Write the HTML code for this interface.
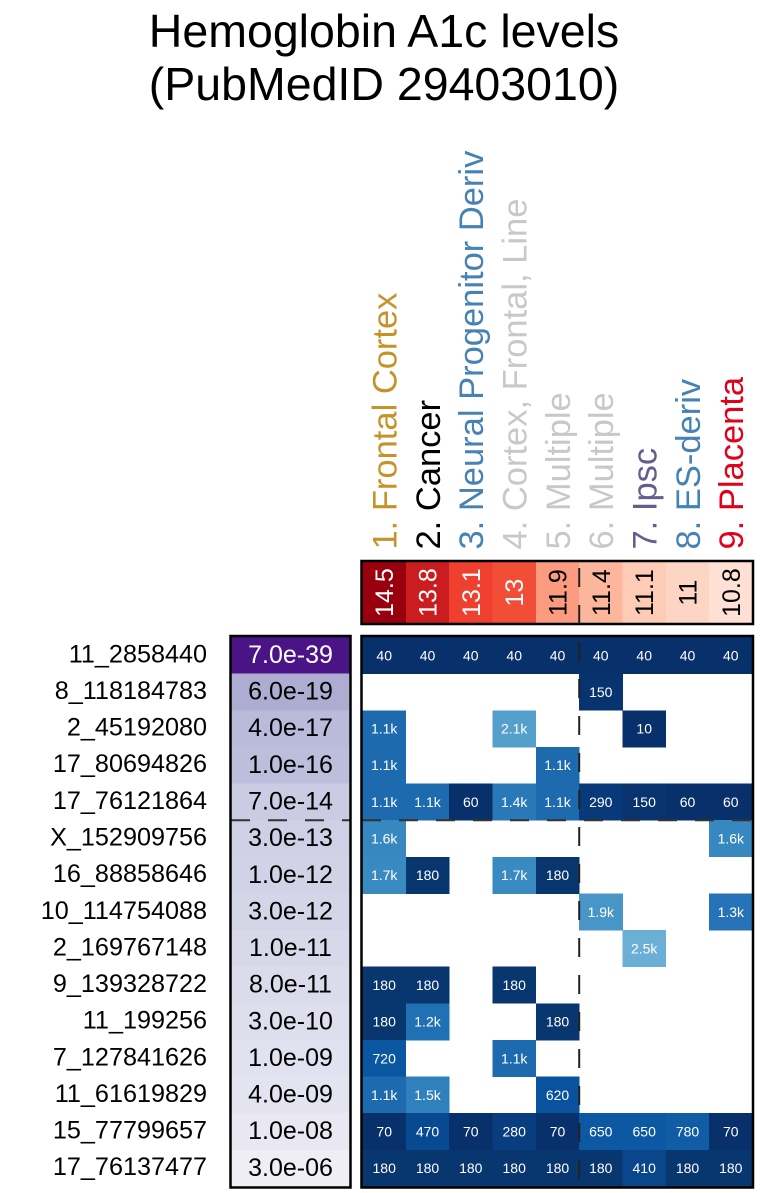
<!DOCTYPE html>
<html>
<head>
<meta charset="utf-8">
<style>
  html,body{margin:0;padding:0;background:#fff;}
  svg{display:block;font-family:"Liberation Sans",Arial,sans-serif;}
</style>
</head>
<body>
<svg width="768" height="1193" viewBox="0 0 768 1193" xmlns="http://www.w3.org/2000/svg">
  <rect x="0" y="0" width="768" height="1193" fill="#fff"/>
  <!-- Title -->
  <text x="384" y="47" font-size="46.5" text-anchor="middle" fill="#000">Hemoglobin A1c levels</text>
  <text x="384" y="100" font-size="46.5" text-anchor="middle" fill="#000">(PubMedID 29403010)</text>

  <!-- Column labels -->
  <g font-size="34.5">
    <text transform="translate(396.5,549.5) rotate(-90)" fill="#C8922A">1. Frontal Cortex</text>
    <text transform="translate(439.8,549.5) rotate(-90)" fill="#000000">2. Cancer</text>
    <text transform="translate(483.1,549.5) rotate(-90)" fill="#4682B4">3. Neural Progenitor Deriv</text>
    <text transform="translate(526.5,549.5) rotate(-90)" fill="#C8C8C8">4. Cortex, Frontal, Line</text>
    <text transform="translate(569.8,549.5) rotate(-90)" fill="#C8C8C8">5. Multiple</text>
    <text transform="translate(613.1,549.5) rotate(-90)" fill="#C8C8C8">6. Multiple</text>
    <text transform="translate(656.5,549.5) rotate(-90)" fill="#665C8E">7. Ipsc</text>
    <text transform="translate(699.8,549.5) rotate(-90)" fill="#4682B4">8. ES-deriv</text>
    <text transform="translate(743.1,549.5) rotate(-90)" fill="#E2001A">9. Placenta</text>
  </g>

  <!-- Red bar -->
  <g shape-rendering="crispEdges">
    <rect x="362.5" y="561.5" width="43.6" height="62" fill="#99000D"/>
    <rect x="405.8" y="561.5" width="43.6" height="62" fill="#CB1D20"/>
    <rect x="449.2" y="561.5" width="43.6" height="62" fill="#EF3F2F"/>
    <rect x="492.5" y="561.5" width="43.6" height="62" fill="#F24D37"/>
    <rect x="535.8" y="561.5" width="43.6" height="62" fill="#FC9B7F"/>
    <rect x="579.2" y="561.5" width="43.6" height="62" fill="#FCB69C"/>
    <rect x="622.5" y="561.5" width="43.6" height="62" fill="#FDCBB6"/>
    <rect x="665.8" y="561.5" width="43.6" height="62" fill="#FDD5C4"/>
    <rect x="709.2" y="561.5" width="43.3" height="62" fill="#FEE1D4"/>
  </g>
  <g font-size="25" text-anchor="middle">
    <text transform="translate(393.2,592.6) rotate(-90)" fill="#fff">14.5</text>
    <text transform="translate(436.5,592.6) rotate(-90)" fill="#fff">13.8</text>
    <text transform="translate(479.8,592.6) rotate(-90)" fill="#fff">13.1</text>
    <text transform="translate(523.2,592.6) rotate(-90)" fill="#fff">13</text>
    <text transform="translate(566.5,592.6) rotate(-90)" fill="#000">11.9</text>
    <text transform="translate(609.8,592.6) rotate(-90)" fill="#000">11.4</text>
    <text transform="translate(653.2,592.6) rotate(-90)" fill="#000">11.1</text>
    <text transform="translate(696.5,592.6) rotate(-90)" fill="#000">11</text>
    <text transform="translate(739.8,592.6) rotate(-90)" fill="#000">10.8</text>
  </g>
  <rect x="361.5" y="561" width="391.5" height="63" fill="none" stroke="#000" stroke-width="2.5"/>

  <!-- Row labels -->
  <g font-size="25.2" text-anchor="end" fill="#000">
    <text x="207" y="662.3">11_2858440</text>
    <text x="207" y="699.0">8_118184783</text>
    <text x="207" y="735.6">2_45192080</text>
    <text x="207" y="772.2">17_80694826</text>
    <text x="207" y="808.9">17_76121864</text>
    <text x="207" y="845.5">X_152909756</text>
    <text x="207" y="882.1">16_88858646</text>
    <text x="207" y="918.8">10_114754088</text>
    <text x="207" y="955.4">2_169767148</text>
    <text x="207" y="992.0">9_139328722</text>
    <text x="207" y="1028.7">11_199256</text>
    <text x="207" y="1065.3">7_127841626</text>
    <text x="207" y="1101.9">11_61619829</text>
    <text x="207" y="1138.6">15_77799657</text>
    <text x="207" y="1175.2">17_76137477</text>
  </g>

  <!-- P-value column -->
  <g shape-rendering="crispEdges">
    <rect x="231" y="637" width="119" height="37" fill="#4A1486"/>
    <rect x="231" y="673.6" width="119" height="37" fill="#AEADD1"/>
    <rect x="231" y="710.3" width="119" height="37" fill="#BABADB"/>
    <rect x="231" y="746.9" width="119" height="37" fill="#BDBDDC"/>
    <rect x="231" y="783.5" width="119" height="37" fill="#CBCBE3"/>
    <rect x="231" y="820.2" width="119" height="37" fill="#CFCFE5"/>
    <rect x="231" y="856.8" width="119" height="37" fill="#D2D2E7"/>
    <rect x="231" y="893.4" width="119" height="37" fill="#D5D5E8"/>
    <rect x="231" y="930.1" width="119" height="37" fill="#D8D8EA"/>
    <rect x="231" y="966.7" width="119" height="37" fill="#DBDBEB"/>
    <rect x="231" y="1003.3" width="119" height="37" fill="#DEDEED"/>
    <rect x="231" y="1040.0" width="119" height="37" fill="#E1E1EF"/>
    <rect x="231" y="1076.6" width="119" height="37" fill="#E4E4F0"/>
    <rect x="231" y="1113.2" width="119" height="37" fill="#E8E7F2"/>
    <rect x="231" y="1149.9" width="119" height="36.6" fill="#EFEEF5"/>
  </g>
  <g font-size="25" text-anchor="middle">
    <text x="290.5" y="663.0" fill="#fff">7.0e-39</text>
    <text x="290.5" y="699.6" fill="#000">6.0e-19</text>
    <text x="290.5" y="736.2" fill="#000">4.0e-17</text>
    <text x="290.5" y="772.9" fill="#000">1.0e-16</text>
    <text x="290.5" y="809.5" fill="#000">7.0e-14</text>
    <text x="290.5" y="846.1" fill="#000">3.0e-13</text>
    <text x="290.5" y="882.8" fill="#000">1.0e-12</text>
    <text x="290.5" y="919.4" fill="#000">3.0e-12</text>
    <text x="290.5" y="956.0" fill="#000">1.0e-11</text>
    <text x="290.5" y="992.7" fill="#000">8.0e-11</text>
    <text x="290.5" y="1029.3" fill="#000">3.0e-10</text>
    <text x="290.5" y="1065.9" fill="#000">1.0e-09</text>
    <text x="290.5" y="1102.6" fill="#000">4.0e-09</text>
    <text x="290.5" y="1139.2" fill="#000">1.0e-08</text>
    <text x="290.5" y="1175.8" fill="#000">3.0e-06</text>
  </g>
  <line x1="231" y1="820.2" x2="350" y2="820.2" stroke="#333" stroke-width="2" stroke-dasharray="19 18"/>
  <rect x="230.5" y="636" width="120" height="551.5" fill="none" stroke="#000" stroke-width="2.5"/>

  <!-- Heatmap cells -->
  <g shape-rendering="crispEdges">
    <rect x="362.5" y="637" width="390" height="37" fill="#08306B"/>
    <rect x="579.2" y="673.6" width="43.6" height="37" fill="#08336F"/>
    <rect x="362.5" y="710.3" width="43.6" height="37" fill="#1D6AAF"/>
    <rect x="492.5" y="710.3" width="43.6" height="37" fill="#559FCD"/>
    <rect x="622.5" y="710.3" width="43.6" height="37" fill="#08306B"/>
    <rect x="362.5" y="746.9" width="43.6" height="37" fill="#1D6AAF"/>
    <rect x="535.8" y="746.9" width="43.6" height="37" fill="#1D6AAF"/>
    <rect x="362.5" y="783.5" width="43.6" height="37" fill="#1D6AAF"/>
    <rect x="405.8" y="783.5" width="43.6" height="37" fill="#1D6AAF"/>
    <rect x="449.2" y="783.5" width="43.6" height="37" fill="#08306B"/>
    <rect x="492.5" y="783.5" width="43.6" height="37" fill="#2979B9"/>
    <rect x="535.8" y="783.5" width="43.6" height="37" fill="#1D6AAF"/>
    <rect x="579.2" y="783.5" width="43.6" height="37" fill="#083A7A"/>
    <rect x="622.5" y="783.5" width="43.6" height="37" fill="#08336F"/>
    <rect x="665.8" y="783.5" width="43.6" height="37" fill="#08306B"/>
    <rect x="709.2" y="783.5" width="43.3" height="37" fill="#08306B"/>
    <rect x="362.5" y="820.2" width="43.6" height="37" fill="#3787C0"/>
    <rect x="709.2" y="820.2" width="43.3" height="37" fill="#3787C0"/>
    <rect x="362.5" y="856.8" width="43.6" height="37" fill="#3A8AC2"/>
    <rect x="405.8" y="856.8" width="43.6" height="37" fill="#08366F"/>
    <rect x="492.5" y="856.8" width="43.6" height="37" fill="#3A8AC2"/>
    <rect x="535.8" y="856.8" width="43.6" height="37" fill="#08366F"/>
    <rect x="579.2" y="893.4" width="43.6" height="37" fill="#4896C8"/>
    <rect x="709.2" y="893.4" width="43.3" height="37" fill="#2573B6"/>
    <rect x="622.5" y="930.1" width="43.6" height="37" fill="#6BAED6"/>
    <rect x="362.5" y="966.7" width="43.6" height="37" fill="#08366F"/>
    <rect x="405.8" y="966.7" width="43.6" height="37" fill="#08366F"/>
    <rect x="492.5" y="966.7" width="43.6" height="37" fill="#08366F"/>
    <rect x="362.5" y="1003.3" width="43.6" height="37" fill="#08366F"/>
    <rect x="405.8" y="1003.3" width="43.6" height="37" fill="#2070B4"/>
    <rect x="535.8" y="1003.3" width="43.6" height="37" fill="#08366F"/>
    <rect x="362.5" y="1040.0" width="43.6" height="37" fill="#0B56A0"/>
    <rect x="492.5" y="1040.0" width="43.6" height="37" fill="#1D6AAF"/>
    <rect x="362.5" y="1076.6" width="43.6" height="37" fill="#1D6AAF"/>
    <rect x="405.8" y="1076.6" width="43.6" height="37" fill="#3080BD"/>
    <rect x="535.8" y="1076.6" width="43.6" height="37" fill="#0A529D"/>
    <rect x="362.5" y="1113.2" width="43.6" height="37" fill="#08306B"/>
    <rect x="405.8" y="1113.2" width="43.6" height="37" fill="#084A91"/>
    <rect x="449.2" y="1113.2" width="43.6" height="37" fill="#08306B"/>
    <rect x="492.5" y="1113.2" width="43.6" height="37" fill="#083D7F"/>
    <rect x="535.8" y="1113.2" width="43.6" height="37" fill="#08306B"/>
    <rect x="579.2" y="1113.2" width="43.6" height="37" fill="#0C58A2"/>
    <rect x="622.5" y="1113.2" width="43.6" height="37" fill="#0C58A2"/>
    <rect x="665.8" y="1113.2" width="43.6" height="37" fill="#105DA6"/>
    <rect x="709.2" y="1113.2" width="43.3" height="37" fill="#08306B"/>
    <rect x="362.5" y="1149.9" width="390" height="36.6" fill="#08366F"/>
    <rect x="622.5" y="1149.9" width="43.6" height="36.6" fill="#0A468B"/>
  </g>

  <!-- Heatmap cell text -->
  <g font-size="14" text-anchor="middle" fill="#fff">
    <text x="384.2" y="660.3">40</text><text x="427.5" y="660.3">40</text><text x="470.8" y="660.3">40</text>
    <text x="514.2" y="660.3">40</text><text x="557.5" y="660.3">40</text><text x="600.8" y="660.3">40</text>
    <text x="644.2" y="660.3">40</text><text x="687.5" y="660.3">40</text><text x="730.8" y="660.3">40</text>

    <text x="600.8" y="697.0">150</text>

    <text x="384.2" y="733.6">1.1k</text><text x="514.2" y="733.6">2.1k</text><text x="644.2" y="733.6">10</text>

    <text x="384.2" y="770.2">1.1k</text><text x="557.5" y="770.2">1.1k</text>

    <text x="384.2" y="806.9">1.1k</text><text x="427.5" y="806.9">1.1k</text><text x="470.8" y="806.9">60</text>
    <text x="514.2" y="806.9">1.4k</text><text x="557.5" y="806.9">1.1k</text><text x="600.8" y="806.9">290</text>
    <text x="644.2" y="806.9">150</text><text x="687.5" y="806.9">60</text><text x="730.8" y="806.9">60</text>

    <text x="384.2" y="843.5">1.6k</text><text x="730.8" y="843.5">1.6k</text>

    <text x="384.2" y="880.1">1.7k</text><text x="427.5" y="880.1">180</text><text x="514.2" y="880.1">1.7k</text><text x="557.5" y="880.1">180</text>

    <text x="600.8" y="916.8">1.9k</text><text x="730.8" y="916.8">1.3k</text>

    <text x="644.2" y="953.4">2.5k</text>

    <text x="384.2" y="990.0">180</text><text x="427.5" y="990.0">180</text><text x="514.2" y="990.0">180</text>

    <text x="384.2" y="1026.7">180</text><text x="427.5" y="1026.7">1.2k</text><text x="557.5" y="1026.7">180</text>

    <text x="384.2" y="1063.3">720</text><text x="514.2" y="1063.3">1.1k</text>

    <text x="384.2" y="1099.9">1.1k</text><text x="427.5" y="1099.9">1.5k</text><text x="557.5" y="1099.9">620</text>

    <text x="384.2" y="1136.6">70</text><text x="427.5" y="1136.6">470</text><text x="470.8" y="1136.6">70</text>
    <text x="514.2" y="1136.6">280</text><text x="557.5" y="1136.6">70</text><text x="600.8" y="1136.6">650</text>
    <text x="644.2" y="1136.6">650</text><text x="687.5" y="1136.6">780</text><text x="730.8" y="1136.6">70</text>

    <text x="384.2" y="1173.2">180</text><text x="427.5" y="1173.2">180</text><text x="470.8" y="1173.2">180</text>
    <text x="514.2" y="1173.2">180</text><text x="557.5" y="1173.2">180</text><text x="600.8" y="1173.2">180</text>
    <text x="644.2" y="1173.2">410</text><text x="687.5" y="1173.2">180</text><text x="730.8" y="1173.2">180</text>
  </g>

  <!-- Dashed separators -->
  <line x1="362" y1="820.2" x2="752" y2="820.2" stroke="#333" stroke-width="2" stroke-dasharray="19 18"/>
  <line x1="579.2" y1="568" x2="579.2" y2="1187" stroke="#222" stroke-width="2" stroke-dasharray="19 18"/>

  <!-- Heatmap border -->
  <rect x="361.5" y="636" width="391.5" height="551.5" fill="none" stroke="#000" stroke-width="2.5"/>
</svg>
</body>
</html>
